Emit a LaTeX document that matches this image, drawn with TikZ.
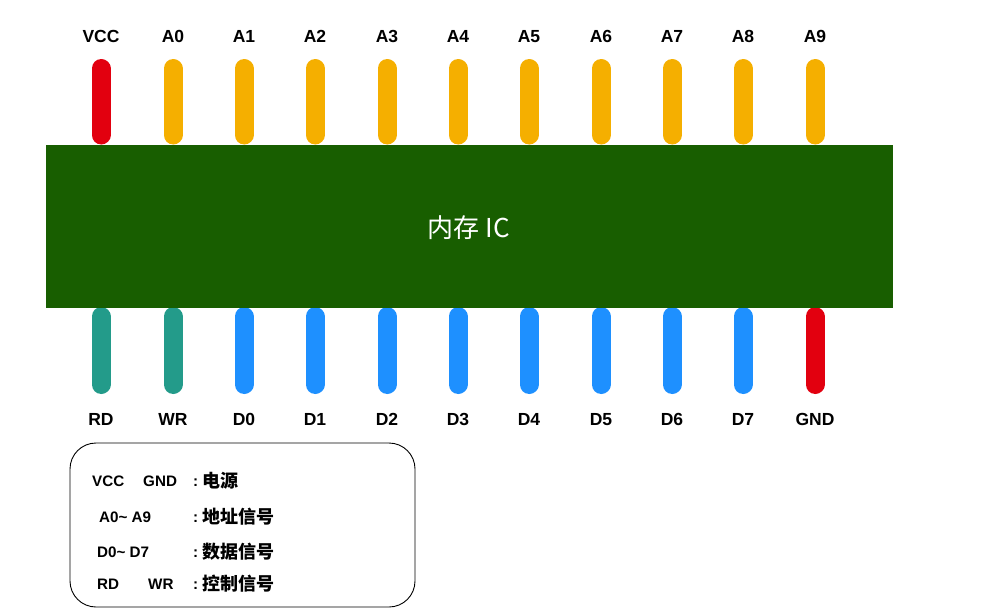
\documentclass[tikz,border=0pt]{standalone}
\usepackage{fontspec}
\setmainfont{Liberation Sans}
\newfontfamily\cjk{Noto Sans CJK SC}
\definecolor{chipgreen}{RGB}{24,94,0}
\definecolor{pinred}{RGB}{226,0,15}
\definecolor{pinorange}{RGB}{245,175,0}
\definecolor{pinteal}{RGB}{35,155,138}
\definecolor{pinblue}{RGB}{30,144,255}
\tikzset{
  pin/.style={line width=19pt, line cap=round},
  pinlabel/.style={font=\fontsize{17.5}{20}\selectfont\bfseries, inner sep=0pt, anchor=base},
  legtext/.style={font=\fontsize{15.2}{18}\selectfont\bfseries, inner sep=0pt, anchor=base west},
  legcjk/.style={font=\cjk\fontsize{18}{20}\selectfont\bfseries, inner sep=0pt, anchor=base west},
}
\begin{document}
\begin{tikzpicture}[x=1pt,y=-1pt]
\useasboundingbox (0,0) rectangle (1006,613);
% top pins
\foreach \x/\lab/\col [count=\i] in {101/VCC/pinred,173/A0/pinorange,244/A1/pinorange,315/A2/pinorange,387/A3/pinorange,458/A4/pinorange,529/A5/pinorange,601/A6/pinorange,672/A7/pinorange,743/A8/pinorange,815/A9/pinorange}{
  \coordinate (t\i a) at (\x,68.5);
  \coordinate (t\i b) at (\x,135);
  \draw[pin,\col] (t\i a) -- (t\i b);
  \node[pinlabel] (tl\i) at (\x,42) {\lab};
}
% bottom pins
\foreach \x/\lab/\col [count=\i] in {101/RD/pinteal,173/WR/pinteal,244/D0/pinblue,315/D1/pinblue,387/D2/pinblue,458/D3/pinblue,529/D4/pinblue,601/D5/pinblue,672/D6/pinblue,743/D7/pinblue,815/GND/pinred}{
  \coordinate (b\i a) at (\x,316.5);
  \coordinate (b\i b) at (\x,384.5);
  \draw[pin,\col] (b\i a) -- (b\i b);
  \node[pinlabel] (bl\i) at (\x,425) {\lab};
}
% chip
\node[fill=chipgreen, minimum width=847pt, minimum height=163pt, inner sep=0pt, anchor=north west] (chip) at (46,145) {};
\node[text=white, font=\cjk\fontsize{26}{30}\selectfont, inner sep=0pt] (chiplabel) at (469,228) {内存 IC};
% legend
\draw[rounded corners=26pt, line width=0.9pt] (70,443) rectangle (415,607);
\node[legtext] (l1a) at (92,486) {VCC};
\node[legtext] (l1b) at (143,486) {GND};
\node[legtext] (l2a) at (99,522) {A0\textasciitilde{} A9};
\node[legtext] (l3a) at (97,557) {D0\textasciitilde{} D7};
\node[legtext] (l4a) at (97,589) {RD};
\node[legtext] (l4b) at (148,589) {WR};
\foreach \y/\t [count=\i] in {486/电源,522/地址信号,557/数据信号,589/控制信号}{
  \node[legtext] (c\i) at (193,\y) {:};
  \node[legcjk] (z\i) at (202,\y+1) {\t};
}
\end{tikzpicture}
\end{document}
